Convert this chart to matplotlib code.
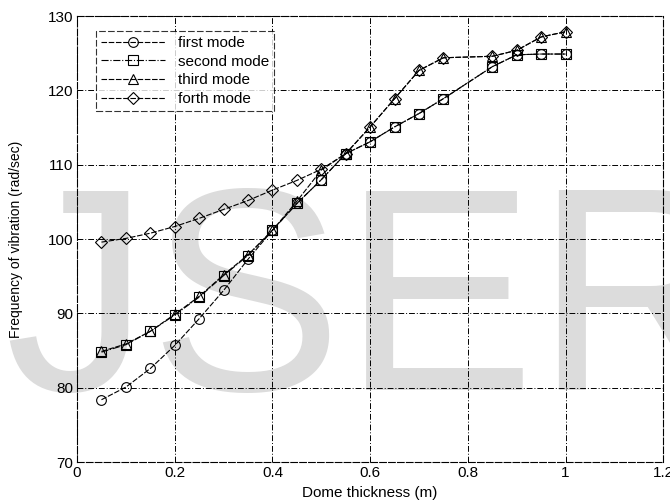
import numpy as np
import matplotlib
matplotlib.use("Agg")
import matplotlib.pyplot as plt

plt.rcParams['font.family'] = ['Liberation Sans', 'DejaVu Sans']

thickness = [0.05, 0.10, 0.15, 0.20, 0.25, 0.30, 0.35, 0.40, 0.45, 0.50,
             0.55, 0.60, 0.65, 0.70, 0.75, 0.85, 0.90, 0.95, 1.00]

first_mode = [78.4, 80.1, 82.6, 85.7, 89.3, 93.1, 97.3, 101.2, 104.8, 108.0,
              111.5, 113.1, 115.1, 116.9, 118.9, 123.2, 124.8, 124.9, 124.9]
second_mode = [84.8, 85.8, 87.6, 89.8, 92.2, 95.1, 97.8, 101.2, 104.8, 108.0,
               111.5, 113.1, 115.1, 116.9, 118.9, 123.2, 124.8, 124.9, 124.9]
third_mode = [84.9, 85.9, 87.6, 89.9, 92.3, 95.2, 97.9, 101.2, 105.1, 109.3,
              111.5, 115.1, 118.9, 122.7, 124.4, 124.6, 125.4, 127.2, 127.9]
forth_mode = [99.6, 100.1, 100.8, 101.7, 102.8, 104.0, 105.2, 106.6, 107.9, 109.4,
              111.5, 115.1, 118.9, 122.7, 124.4, 124.6, 125.4, 127.2, 127.9]

fig = plt.figure(figsize=(6.7, 5.04), dpi=100)
ax = fig.add_axes([0.115, 0.083, 0.875, 0.885])
ax.patch.set_alpha(0)

# watermark behind the plot
fig.text(0.50, 0.375, "IJSER", fontsize=208, color="#dcdcdc", ha="center",
         va="center", zorder=-1)

dash = (0, (5, 1.5))
ax.plot(thickness, first_mode, color="black", lw=0.8, ls=dash, marker="o",
        ms=7, mfc="none", mew=0.8, label="first mode")
ax.plot(thickness, second_mode, color="black", lw=0.8, ls="-.", marker="s",
        ms=7, mfc="none", mew=0.8, label="second mode")
ax.plot(thickness, third_mode, color="black", lw=0.8, ls=dash, marker="^",
        ms=7, mfc="none", mew=0.8, label="third mode")
ax.plot(thickness, forth_mode, color="black", lw=0.8, ls=dash, marker="D",
        ms=6, mfc="none", mew=0.8, label="forth mode")

ax.set_xlim(0, 1.2)
ax.set_ylim(70, 130)
ax.set_xticks(np.arange(0, 1.21, 0.2))
ax.set_xticklabels(["0", "0.2", "0.4", "0.6", "0.8", "1", "1.2"])
ax.set_yticks(np.arange(70, 131, 10))
ax.tick_params(direction="in", length=3, labelsize=11, width=0.6, pad=3)
ax.grid(True, color="black", ls=(0, (6, 2, 1, 2)), lw=0.7)
for sp in ax.spines.values():
    sp.set_linestyle((0, (6, 2)))
    sp.set_linewidth(0.8)

ax.set_xlabel("Dome thickness (m)", fontsize=11)
ax.xaxis.set_label_coords(0.5, -0.054)
ax.set_ylabel("Frequency of vibration (rad/sec)", fontsize=10)
ax.yaxis.set_label_coords(-0.093, 0.5)

leg = ax.legend(loc="upper left", bbox_to_anchor=(0.019, 0.984), fontsize=11,
                frameon=True, fancybox=False, edgecolor="black",
                handlelength=4.2, borderpad=0.35, labelspacing=0.3)
leg.get_frame().set_linestyle((0, (6, 2)))
leg.get_frame().set_linewidth(0.8)

fig.savefig("out.png", dpi=100)
